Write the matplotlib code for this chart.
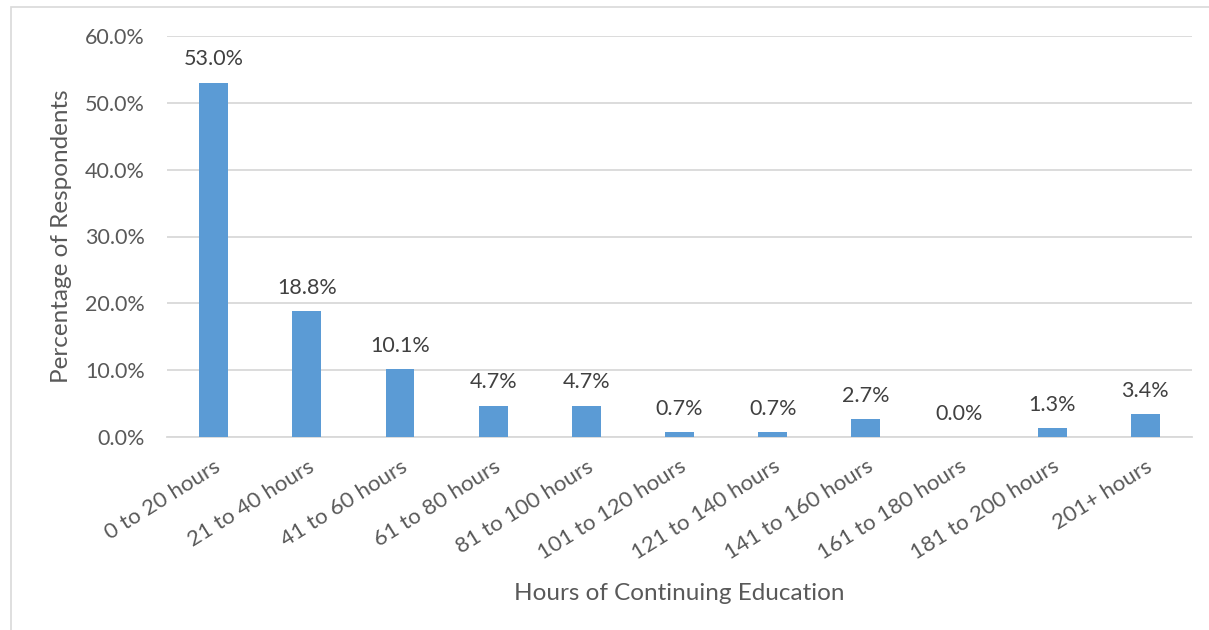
import matplotlib.pyplot as plt
from matplotlib.patches import Rectangle
from matplotlib.ticker import FuncFormatter

plt.rcParams['font.family'] = ['Lato', 'DejaVu Sans']

categories = ['0 to 20 hours', '21 to 40 hours', '41 to 60 hours', '61 to 80 hours',
              '81 to 100 hours', '101 to 120 hours', '121 to 140 hours',
              '141 to 160 hours', '161 to 180 hours', '181 to 200 hours', '201+ hours']
percentages = [53.0, 18.8, 10.1, 4.7, 4.7, 0.7, 0.7, 2.7, 0.0, 1.3, 3.4]

bar_color = '#5B9BD5'
grid_color = '#D9D9D9'
text_color = '#595959'

fig = plt.figure(figsize=(12.09, 6.30), dpi=100)
ax = fig.add_axes([167 / 1209, 1 - 437 / 630, (1192 - 167) / 1209, (437 - 36) / 630])

# chart area frame
fig.patches.append(Rectangle((11 / 1209, -0.05), 1.2, 1 - 7 / 630 + 0.05,
                             transform=fig.transFigure, fill=False,
                             edgecolor=grid_color, linewidth=1.2))

x = range(len(categories))
ax.bar(x, percentages, width=0.31, color=bar_color, zorder=3)

for xi, v in zip(x, percentages):
    ax.text(xi, v + 2.0, f'{v:.1f}%', ha='center', va='bottom',
            fontsize=15.5, color='#404040')

ax.set_xlim(-0.5, len(categories) - 0.5)
ax.set_ylim(0, 60)
ax.set_yticks(range(0, 61, 10))
ax.yaxis.set_major_formatter(FuncFormatter(lambda v, _: f'{v:.1f}%'))
ax.grid(axis='y', color=grid_color, linewidth=1.3, zorder=0)

for side in ['top', 'right', 'left']:
    ax.spines[side].set_visible(False)
ax.spines['bottom'].set_color(grid_color)
ax.spines['bottom'].set_linewidth(1.3)

ax.tick_params(axis='both', length=0, labelsize=15.5, labelcolor=text_color)
ax.tick_params(axis='y', pad=16)
ax.set_xticks(list(x))
ax.set_xticklabels(categories, rotation=32, ha='right', va='top',
                   rotation_mode='anchor', fontsize=16)
ax.tick_params(axis='x', pad=14)

ax.set_ylabel('Percentage of Respondents', fontsize=17.5, color=text_color, labelpad=9)
ax.set_xlabel('Hours of Continuing Education', fontsize=17.5, color=text_color, labelpad=14)

fig.savefig('out.png', dpi=100, facecolor='white')
